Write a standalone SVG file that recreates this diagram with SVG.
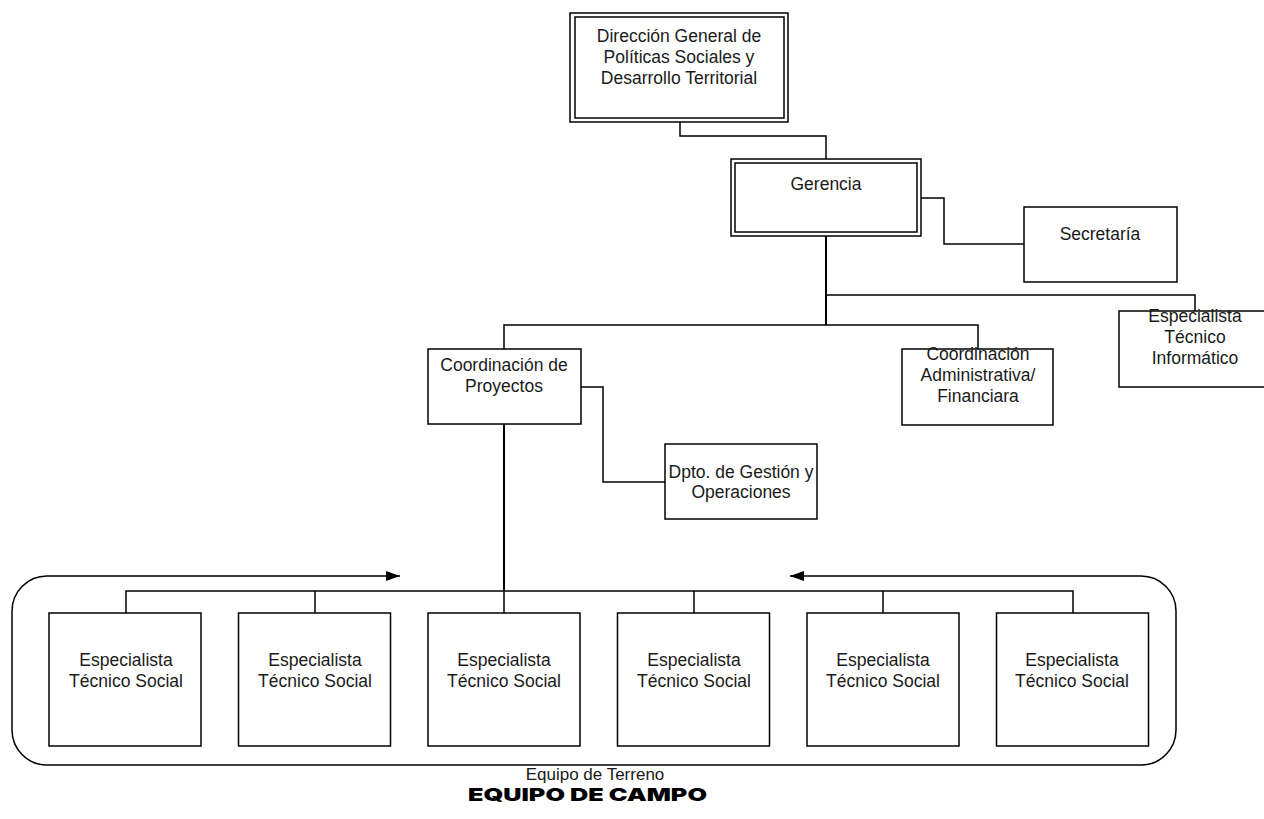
<svg xmlns="http://www.w3.org/2000/svg" width="1264" height="819" viewBox="0 0 1264 819">
<style>
.box{fill:#fff;stroke:#000;stroke-width:1.5}
.con{fill:none;stroke:#000;stroke-width:1.5}
.trunk{fill:none;stroke:#000;stroke-width:2}
.t{font-family:"Liberation Sans",Arial,sans-serif;font-size:17.5px;fill:#1a1a1a;text-anchor:middle}
.title{font-family:Inter,"Lato","Liberation Sans",sans-serif;font-weight:900;font-size:18px;fill:#000;text-anchor:middle}
</style>
<defs>
<marker id="ah" viewBox="0 0 14 10" refX="14" refY="5" markerWidth="14" markerHeight="10" markerUnits="userSpaceOnUse" orient="auto-start-reverse">
<path d="M0,0 L14,5 L0,10 Z" fill="#000"/>
</marker>
</defs>
<rect width="1264" height="819" fill="#fff"/>
<g id="connectors">
<path class="con" d="M680,122 V136 H826 V159"/>
<path class="con" d="M921,198 H944 V244 H1024"/>
<path class="trunk" d="M826,236 V325"/>
<path class="con" d="M826,295 H1195 V311"/>
<path class="con" d="M504,349 V325 H978 V349"/>
<path class="con" d="M581,387 H603 V482 H665"/>
<path class="trunk" d="M504,424 V591"/>
<path class="con" d="M126,613 V591 H1073 V613 M315,591 V613 M504,591 V613 M694,591 V613 M883,591 V613"/>
<path class="con" d="M400,576 H47 A35,35 0 0 0 12,611 V730 A35,35 0 0 0 47,765 H1141 A35,35 0 0 0 1176,730 V611 A35,35 0 0 0 1141,576 H790" marker-start="url(#ah)" marker-end="url(#ah)"/>
</g>
<g id="n-direccion">
<rect class="box" x="570" y="13" width="218" height="109"/>
<rect class="box" x="575" y="17" width="209" height="101"/>
<text class="t" x="679" y="42">Dirección General de</text>
<text class="t" x="679" y="63">Políticas Sociales y</text>
<text class="t" x="679" y="84">Desarrollo Territorial</text>
</g>
<g id="n-gerencia">
<rect class="box" x="731" y="159" width="190" height="77"/>
<rect class="box" x="735" y="163" width="182" height="69"/>
<text class="t" x="826" y="190">Gerencia</text>
</g>
<g id="n-secretaria">
<rect class="box" x="1024" y="207" width="153" height="75"/>
<text class="t" x="1100" y="240">Secretaría</text>
</g>
<g id="n-informatico">
<rect class="box" x="1119" y="311" width="150" height="76"/>
<text class="t" x="1195" y="322">Especialista</text>
<text class="t" x="1195" y="343">Técnico</text>
<text class="t" x="1195" y="364">Informático</text>
</g>
<g id="n-coord-adm">
<rect class="box" x="902" y="349" width="151" height="76"/>
<text class="t" x="978" y="360">Coordinación</text>
<text class="t" x="978" y="381">Administrativa/</text>
<text class="t" x="978" y="402">Financiara</text>
</g>
<g id="n-coord-proy">
<rect class="box" x="428" y="349" width="153" height="75"/>
<text class="t" x="504" y="371">Coordinación de</text>
<text class="t" x="504" y="392">Proyectos</text>
</g>
<g id="n-dpto">
<rect class="box" x="665" y="444" width="152" height="75"/>
<text class="t" x="741" y="478">Dpto. de Gestión y</text>
<text class="t" x="741" y="498">Operaciones</text>
</g>
<g id="n-ets1">
<rect class="box" x="49" y="613" width="152" height="133"/>
<text class="t" x="126" y="666">Especialista</text>
<text class="t" x="126" y="687">Técnico Social</text>
</g>
<g id="n-ets2">
<rect class="box" x="238.5" y="613" width="152" height="133"/>
<text class="t" x="315" y="666">Especialista</text>
<text class="t" x="315" y="687">Técnico Social</text>
</g>
<g id="n-ets3">
<rect class="box" x="428" y="613" width="152" height="133"/>
<text class="t" x="504" y="666">Especialista</text>
<text class="t" x="504" y="687">Técnico Social</text>
</g>
<g id="n-ets4">
<rect class="box" x="617.5" y="613" width="152" height="133"/>
<text class="t" x="694" y="666">Especialista</text>
<text class="t" x="694" y="687">Técnico Social</text>
</g>
<g id="n-ets5">
<rect class="box" x="807" y="613" width="152" height="133"/>
<text class="t" x="883" y="666">Especialista</text>
<text class="t" x="883" y="687">Técnico Social</text>
</g>
<g id="n-ets6">
<rect class="box" x="996.5" y="613" width="152" height="133"/>
<text class="t" x="1072" y="666">Especialista</text>
<text class="t" x="1072" y="687">Técnico Social</text>
</g>
<g id="labels">
<text class="t" x="595" y="780" style="font-size:17px">Equipo de Terreno</text>
<text class="title" x="587.5" y="801" textLength="239" lengthAdjust="spacingAndGlyphs">EQUIPO DE CAMPO</text>
</g>
</svg>
